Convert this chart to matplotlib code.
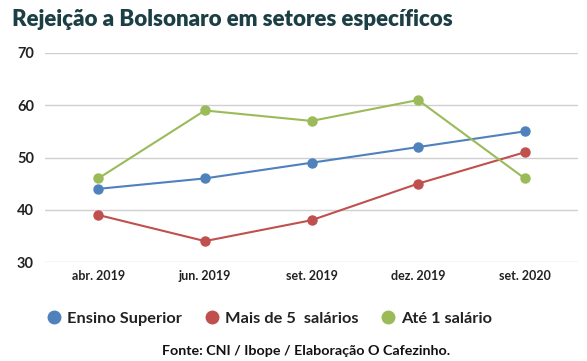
import matplotlib
matplotlib.use("Agg")
import matplotlib.pyplot as plt
from matplotlib.lines import Line2D

categories = ["abr. 2019", "jun. 2019", "set. 2019", "dez. 2019", "set. 2020"]
ensino_superior = [44, 46, 49, 52, 55]
mais_5_salarios = [39, 34, 38, 45, 51]
ate_1_salario = [46, 59, 57, 61, 46]
series_names = ["Ensino Superior", "Mais de 5  salários", "Até 1 salário"]
colors = ["#4f81bd", "#c0504d", "#9bbb59"]
yticks = [30, 40, 50, 60, 70]

plt.rcParams['font.family'] = ['Lato', 'DejaVu Sans']

fig = plt.figure(figsize=(5.87, 3.61), dpi=100)
ax = fig.add_axes([0.0767, 0.2742, 0.908, 0.579])

x = list(range(len(categories)))
for vals, c in zip([ensino_superior, mais_5_salarios, ate_1_salario], colors):
    ax.plot(x, vals, color=c, lw=1.5, marker='o', ms=6.5, zorder=3)

ax.set_xlim(-0.5, len(categories) - 0.5)
ax.set_ylim(30, 70)
ax.set_yticks(yticks)
ax.set_yticklabels([str(t) for t in yticks], fontsize=10.5, fontweight='bold', color='#222222')
ax.set_xticks(x)
ax.set_xticklabels(categories, fontsize=9, fontweight='bold', color='#222222')
ax.grid(axis='y', color='#d0d0d0', lw=1)
ax.set_axisbelow(True)
for s in ax.spines.values():
    s.set_visible(False)
ax.tick_params(axis='both', length=0, pad=6)
ax.tick_params(axis='y', pad=8)

fig.text(0.02, 0.945, "Rejeição a Bolsonaro em setores específicos", fontsize=16,
         fontweight='heavy', color='#1b3f45', va='center', ha='left')

handles = [Line2D([], [], ls='none', marker='o', ms=9, color=c) for c in colors]
fig.legend(handles, series_names, loc='center', bbox_to_anchor=(0.458, 0.117), ncol=3,
           frameon=False, prop={'size': 11.8, 'weight': 'bold'}, handletextpad=0.3,
           columnspacing=1.3, handlelength=1.0, labelcolor='#222222')

fig.text(0.522, 0.028, "Fonte: CNI / Ibope / Elaboração O Cafezinho.", fontsize=10.3,
         fontweight='bold', color='#111111', ha='center', va='center')

fig.savefig("out.png", dpi=100)
